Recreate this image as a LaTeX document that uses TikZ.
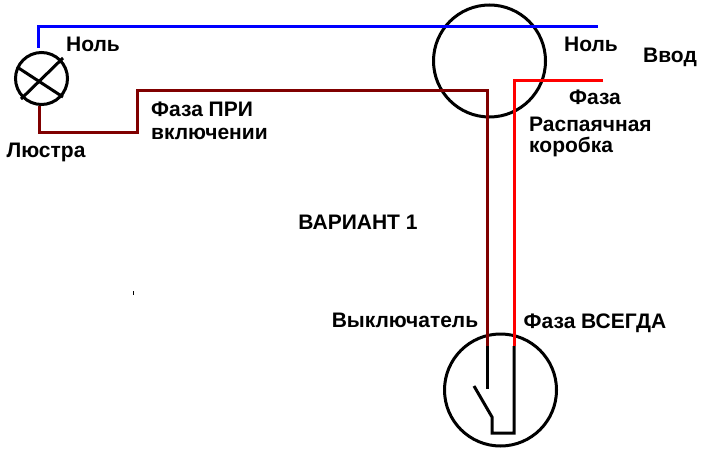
\documentclass[tikz,border=0pt]{standalone}
\usepackage{fontspec}
\setmainfont{Liberation Sans}
\begin{document}
\begin{tikzpicture}[x=1pt, y=-1pt]
  \tikzset{
    wire/.style={line width=3pt, line join=miter},
    neutral/.style={wire, draw={rgb,255:red,0;green,0;blue,255}},
    livewire/.style={wire, draw={rgb,255:red,255;green,0;blue,0}},
    switched/.style={wire, draw={rgb,255:red,128;green,0;blue,0}},
    inner/.style={line width=3pt, draw=black},
    ring/.style={circle, draw=black, line width=3pt, inner sep=0pt, minimum size=#1},
    caption/.style={font=\bfseries\fontsize{21}{24}\selectfont, inner sep=0pt, align=left}
  }
  \useasboundingbox (0,0) rectangle (708,454);
  % devices
  \node[ring=52pt] (lamp) at (41.5,78.5) {};
  \node[ring=112pt] (junction) at (489.5,61) {};
  \node[ring=112pt] (switch) at (500.5,390) {};
  % wire ends
  \coordinate (lampN) at (38,48);
  \coordinate (mainsN) at (598,27);
  \coordinate (lampL) at (39,106);
  \coordinate (mainsL) at (603,81);
  \coordinate (swA) at (487,346);
  \coordinate (swB) at (514,346);
  \coordinate (swPivot) at (492,417);
  \coordinate (swTip) at (474,386);
  \coordinate (swOpen) at (487,389);
  % lamp cross
  \coordinate (crossA) at (17,67);
  \coordinate (crossB) at (63,97);
  \coordinate (crossC) at (21,99);
  \coordinate (crossD) at (63,58);
  \draw[inner] (crossA) -- (crossB);
  \draw[inner] (crossC) -- (crossD);
  % wires
  \draw[neutral] (lampN) |- (mainsN);
  \draw[switched] (lampL) |- (137,133) |- (487,91) -- (swA);
  \draw[livewire] (mainsL) -| (swB);
  % switch contacts
  \draw[inner] (swA) -- (swOpen);
  \draw[inner, line join=miter] (swTip) -- (swPivot) |- (514,433) -- (swB);
  \fill[black] (132.5,290.5) rectangle (134,294.5);
  % labels
  \node[caption] (lblNullA) at (93,44) {Ноль};
  \node[caption] (lblLamp) at (46,152) {Люстра};
  \node[caption, anchor=west] (lblPhaseOn) at (151,109) {Фаза ПРИ};
  \node[caption, anchor=west] (lblPhaseOnB) at (151,134) {включении};
  \node[caption] (lblNullB) at (591,44) {Ноль};
  \node[caption] (lblInput) at (670,57) {Ввод};
  \node[caption] (lblPhase) at (595,97) {Фаза};
  \node[caption, anchor=west] (lblBox) at (529,124) {Распаячная};
  \node[caption, anchor=west] (lblBoxB) at (529,147) {коробка};
  \node[caption] (lblVariant) at (358,222) {ВАРИАНТ 1};
  \node[caption] (lblSwitch) at (405,320) {Выключатель};
  \node[caption] (lblAlways) at (595,323) {Фаза ВСЕГДА};
\end{tikzpicture}
\end{document}
